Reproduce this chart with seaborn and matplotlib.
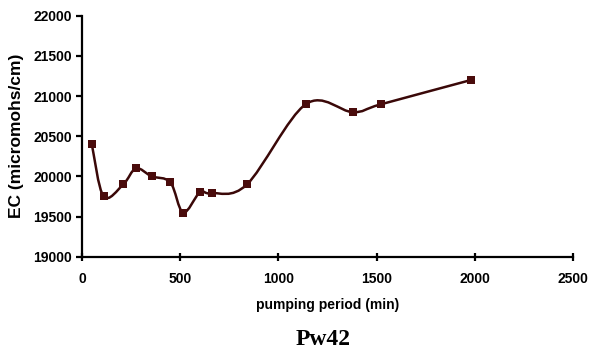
import numpy as np
import pandas as pd
import matplotlib
matplotlib.use("Agg")
import matplotlib.pyplot as plt
from matplotlib.path import Path
from matplotlib.patches import PathPatch
import seaborn as sns

# datos (Pw42)
tiempo = [50, 110, 210, 275, 355, 450, 515, 600, 660, 840, 1140, 1380, 1525, 1980]
ec = [20400, 19750, 19900, 20100, 20000, 19925, 19550, 19800, 19790, 19900, 20900, 20800, 20900, 21200]

x_ticks = [0, 500, 1000, 1500, 2000, 2500]
y_ticks = [19000, 19500, 20000, 20500, 21000, 21500, 22000]

color_linea = "#3a0808"
color_marca = "#4a0c0c"

sns.set_theme(style="white")
plt.rcParams['font.family'] = ['Liberation Sans', 'DejaVu Sans']
plt.rcParams['text.color'] = "black"
plt.rcParams['axes.labelcolor'] = "black"

df = pd.DataFrame({"t": tiempo, "ec": ec})

fig = plt.figure(figsize=(5.9, 3.6), dpi=100)
ax = fig.add_axes([0.139, 0.287, 0.832, 0.669])


def curva_suave(xs, ys):
    # curva tipo excel (bezier con puntos de control catmull-rom)
    pts = np.column_stack([xs, ys]).astype(float)
    n = len(pts)
    verts = [pts[0]]
    codes = [Path.MOVETO]
    for i in range(n - 1):
        p0 = pts[i - 1] if i > 0 else pts[i]
        p1 = pts[i]
        p2 = pts[i + 1]
        p3 = pts[i + 2] if i + 2 < n else pts[i + 1]
        c1 = p1 + (p2 - p0) / 6.0
        c2 = p2 - (p3 - p1) / 6.0
        verts += [c1, c2, p2]
        codes += [Path.CURVE4] * 3
    return Path(verts, codes)


ax.add_patch(PathPatch(curva_suave(df["t"], df["ec"]), facecolor="none",
                       edgecolor=color_linea, lw=1.8, transform=ax.transData, zorder=2))
sns.scatterplot(data=df, x="t", y="ec", marker="s", s=34, color=color_marca,
                edgecolor=color_marca, linewidth=0, ax=ax, zorder=3)

ax.set_xlim(0, 2500)
ax.set_ylim(19000, 22000)
ax.set_xticks(x_ticks)
ax.set_yticks(y_ticks)
ax.set_xticklabels([str(v) for v in x_ticks], fontweight="bold", fontsize=10)
ax.set_yticklabels([str(v) for v in y_ticks], fontweight="bold", fontsize=10)

for s in ["top", "right"]:
    ax.spines[s].set_visible(False)
for s in ["left", "bottom"]:
    ax.spines[s].set_linewidth(1.6)
    ax.spines[s].set_color("black")

ax.tick_params(axis="x", direction="inout", length=6, width=1.6, pad=8, colors="black")
ax.tick_params(axis="y", direction="out", length=4, width=1.6, pad=3, colors="black")
ax.tick_params(left=True, bottom=True)

ax.set_xlabel("pumping period (min)", fontweight="bold", fontsize=10, labelpad=9)
ax.set_ylabel("EC (micromohs/cm)", fontweight="bold", fontsize=12.5, labelpad=7)

fig.text(0.547, 0.056, "Pw42", ha="center", va="center", fontsize=17,
         fontweight="bold", family=["Liberation Serif", "DejaVu Serif"])

fig.savefig("out.png", dpi=100, facecolor="white")
